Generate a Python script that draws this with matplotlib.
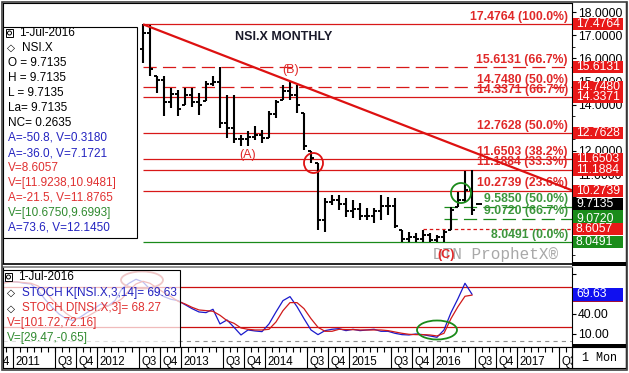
import numpy as np
import matplotlib
matplotlib.use('Agg')
import matplotlib.pyplot as plt
from matplotlib.patches import Rectangle, Ellipse

plt.rcParams['font.family'] = ['Liberation Sans', 'DejaVu Sans']
plt.rcParams['lines.scale_dashes'] = False

W, H, DPI = 629, 373, 100

# ------------------------------------------------------------
# data (month index: 0 = Jan 2011)
# ------------------------------------------------------------
bar_months = list(range(18, 67))
highs = [17.4764, 17.45, 15.24, 15.24, 14.72, 14.64, 14.72, 14.72, 14.51, 15.03,
         15.24, 15.63, 14.42, 14.42, 12.69, 12.86, 13.07, 12.92, 13.73, 14.20,
         14.87, 14.97, 14.85, 13.64, 12.00, 11.48, 9.97, 10.10, 10.10, 9.97,
         9.88, 9.75, 9.54, 9.54, 10.10, 10.01, 9.97, 8.58, 8.50, 8.45,
         8.58, 8.45, 8.37, 8.58, 9.58, 10.23, 11.12, 11.19, 9.7135]
lows = [15.80, 15.23, 14.51, 13.51, 13.86, 13.51, 13.99, 13.91, 13.56, 14.16,
        14.81, 13.00, 12.56, 12.35, 12.22, 12.22, 12.49, 12.34, 12.56, 13.43,
        14.22, 14.22, 13.64, 12.04, 11.50, 8.58, 8.50, 9.67, 9.45, 9.15,
        9.10, 9.02, 9.02, 8.89, 9.02, 9.23, 8.67, 8.07, 8.07, 8.07,
        8.07, 8.07, 8.0491, 8.07, 8.58, 9.58, 9.79, 9.23, 9.7135]
closes = [17.10, 15.55, 15.05, 14.10, 14.45, 13.80, 14.40, 14.10, 14.00, 14.90,
          15.00, 13.20, 13.00, 12.50, 12.50, 12.60, 12.70, 12.55, 13.60, 14.10,
          14.60, 14.40, 14.00, 12.20, 11.70, 9.00, 9.80, 9.90, 9.70, 9.40,
          9.50, 9.20, 9.20, 9.40, 9.60, 9.60, 8.75, 8.20, 8.30, 8.20,
          8.35, 8.15, 8.30, 8.50, 9.45, 9.90, 10.30, 9.45, 9.7135]
first_open = 16.40

fib_red = [17.4764, 15.6131, 14.7480, 14.3371, 12.7628, 11.6503, 11.1884, 10.2739]
fib_red_pct = ['100.0%', '66.7%', '50.0%', '66.7%', '50.0%', '38.2%', '33.3%', '23.6%']
fib_dashed = [15.6131, 14.7480]
fib_green = [9.5850, 9.0720, 8.0491]
fib_green_pct = ['50.0%', '66.7%', '0.0%']
support_dotted = 8.6057
last_price = 9.7135

trend_start = (18, 17.4764)
trend_b = (40, 14.90)

price_ticks = [10, 11, 12, 13, 14, 15, 16, 17, 18]
price_tick_labels = ['', '11.0000', '12.0000', '', '14.0000', '15.0000', '16.0000',
                     '17.0000', '18.0000']

stoch_months = list(range(-2, 66))
stoch_k = [88, 89, 88, 86, 85, 75, 62, 50, 40, 33, 30, 35, 42, 48, 55, 52, 60, 78, 86, 92,
           88, 77, 72, 66, 62,
           60, 54, 48, 43, 42, 47, 25, 31, 20, 8.5, 16, 14.5, 13.5, 25, 43, 60, 66, 51,
           33, 16, 9, 15, 17, 18, 15, 17, 15, 16, 17, 14, 14, 11, 9, 8.5, 10, 9, 7, 5,
           16, 42, 63, 86, 69.63]
stoch_d = [86, 88, 88, 87, 86, 82, 74, 62, 51, 41, 34, 33, 36, 42, 48, 52, 56, 63, 75, 85,
           89, 86, 79, 72, 66,
           59, 55, 50, 46, 45, 44, 38, 30, 26, 19, 17, 16, 16, 17, 28, 45, 57, 57,
           48, 33, 20, 14, 14, 17, 16.5, 16.5, 16, 16, 16, 16, 15, 13, 11, 9.5, 9, 9,
           8.5, 7, 11, 33, 51, 66.5, 68.27]
stoch_levels = [80, 20]

date_label_months = [-3, 0, 6, 9, 12, 18, 21, 24, 30, 33, 36, 42, 45, 48, 54, 57,
                     60, 66, 69, 72, 78]
date_label_text = ['Q4', '2011', 'Q3', 'Q4', '2012', 'Q3', 'Q4', '2013', 'Q3', 'Q4',
                   '2014', 'Q3', 'Q4', '2015', 'Q3', 'Q4', '2016', 'Q3', 'Q4', '2017', 'Q3']

legend_lines = [('O = 9.7135', 'k'), ('H = 9.7135', 'k'), ('L = 9.7135', 'k'),
                ('La= 9.7135', 'k'), ('NC= 0.2635', 'k'),
                ('A=-50.8, V=0.3180', 'b'), ('A=-36.0, V=7.1721', 'b'),
                ('V=8.6057', 'r'), ('V=[11.9238,10.9481]', 'r'),
                ('A=-21.5, V=11.8765', 'r'), ('V=[10.6750,9.6993]', 'g'),
                ('A=73.6, V=12.1450', 'b')]

RED = '#d81818'
RED_TXT = '#e02828'
GREEN = '#1a8a1a'
BLUE = '#1a1acc'
TXT = {'k': 'black', 'b': '#2323c0', 'r': '#e03030', 'g': '#2f8a2f'}

# ------------------------------------------------------------
fig = plt.figure(figsize=(W / DPI, H / DPI), dpi=DPI)


def rect(x0, y0, x1, y1):
    return [x0 / W, 1 - y1 / H, (x1 - x0) / W, (y1 - y0) / H]


def ftext(x, y, s, **kw):
    kw.setdefault('va', 'center')
    kw.setdefault('zorder', 7)
    fig.text(x / W, 1 - y / H, s, **kw)


def fpatch(p):
    p.set_transform(fig.transFigure)
    fig.patches.append(p)


XMIN, XMAX = -2.0, 79.29
ax = fig.add_axes(rect(3, 3, 572, 263))
axs = fig.add_axes(rect(3, 267, 572, 347))
axd = fig.add_axes(rect(3, 347, 572, 368))

# ---------------- price panel ----------------
ax.set_xlim(XMIN, XMAX)
ax.set_ylim(7.156, 18.397)

m = np.array(bar_months, dtype=float)
opens = [first_open] + closes[:-1]
opens = [min(max(o, l), h) for o, l, h in zip(opens, lows, highs)]
ax.vlines(m, lows, highs, color='black', lw=1.5, zorder=3)
ax.hlines(opens, m - 0.45, m, color='black', lw=1.4, zorder=3)
ax.hlines(closes, m, m + 0.45, color='black', lw=1.4, zorder=3)

for lev, pct in zip(fib_red, fib_red_pct):
    ls = (0, (9.5, 4.5)) if lev in fib_dashed else '-'
    ax.hlines(lev, 18, XMAX, color=RED, lw=0.9, linestyle=ls, zorder=2)
    ax.text(78.7, lev + 0.06, f'{lev:.4f} ({pct})', ha='right', va='bottom',
            color=RED_TXT, fontsize=8.8, fontweight='bold', zorder=4)
for i, (lev, pct) in enumerate(zip(fib_green, fib_green_pct)):
    if i < 2:
        ax.hlines(lev, 61, XMAX, color=GREEN, lw=0.9, linestyle=(0, (9.5, 4.5)), zorder=2)
    else:
        ax.hlines(lev, 18, XMAX, color=GREEN, lw=0.9, zorder=2)
    ax.text(78.7, lev + 0.06, f'{lev:.4f} ({pct})', ha='right', va='bottom',
            color='#3c963c', fontsize=8.8, fontweight='bold', zorder=4)
ax.hlines(support_dotted, 58, XMAX, color=RED, lw=0.9, linestyle=(0, (2.5, 2)), zorder=2)

slope = (trend_b[1] - trend_start[1]) / (trend_b[0] - trend_start[0])
ax.plot([trend_start[0], XMAX],
        [trend_start[1], trend_start[1] + slope * (XMAX - trend_start[0])],
        color='#dd1111', lw=1.6, zorder=4, solid_capstyle='butt')

ax.text(38.1, 18.397 - (37 - 3) / 23.13, 'NSI.X MONTHLY', ha='center', va='center',
        fontsize=9, fontweight='bold', color='#1a1a2a')
ax.text(33.0, 17.4764 - (155 - 24.3) / 23.13, '(A)', ha='center', va='center',
        fontsize=9, color=RED_TXT)
ax.text(39.1, 17.4764 - (70 - 24.3) / 23.13, '(B)', ha='center', va='center',
        fontsize=9, color=RED_TXT)
ax.text(68.3, 17.4764 - (255 - 24.3) / 23.13, 'DTN ProphetX®', ha='center', va='center',
        fontsize=11.5, color='#a8a8a8', family=['Liberation Mono', 'DejaVu Sans Mono'],
        zorder=5)
ax.text(61.3, 17.4764 - (255 - 24.3) / 23.13, '(C)', ha='center', va='center',
        fontsize=9, fontweight='bold', color=RED_TXT, zorder=6)

ax.yaxis.tick_right()
ax.set_yticks(price_ticks)
ax.set_yticklabels(price_tick_labels)
ax.set_yticks(np.arange(7.5, 18.4, 0.5), minor=True)
ax.tick_params(axis='y', which='major', length=3, width=0.8, pad=1.5, labelsize=8.8)
ax.tick_params(axis='y', which='minor', length=2, width=0.6)
ax.set_xticks([])
for s in ax.spines.values():
    s.set_linewidth(0.8)
ax.spines['bottom'].set_visible(False)

# ---------------- stochastic panel ----------------
axs.set_xlim(XMIN, XMAX)
axs.set_ylim(-9.54, 110.4)
axs.plot(stoch_months, stoch_k, color=BLUE, lw=0.9, zorder=3)
axs.plot(stoch_months, stoch_d, color='#d01a1a', lw=0.9, zorder=3)
axs.hlines(stoch_levels, XMIN, XMAX, color='#cc1010', lw=0.9, zorder=2)
axs.hlines(0, XMIN, XMAX, color='#909090', lw=0.8, linestyle=(0, (3, 3)), zorder=2)
axs.yaxis.tick_right()
axs.set_yticks([10, 40, 70, 100])
axs.set_yticklabels(['10.00', '40.00', '', ''])
axs.tick_params(axis='y', length=3, width=0.8, pad=1.5, labelsize=8.8)
axs.set_xticks([])
for s in axs.spines.values():
    s.set_linewidth(0.8)
axs.spines['top'].set_color('#808080')
axs.spines['top'].set_linewidth(1.2)

# ---------------- date strip ----------------
axd.set_xlim(XMIN, XMAX)
axd.set_ylim(0, 1)
axd.set_xticks([])
axd.set_yticks([])
axd.vlines(np.arange(-2, 80) - 0.5, 0.75, 1.0, color='black', lw=0.8)
axd.vlines(np.array(date_label_months) - 0.5, 0.0, 1.0, color='black', lw=0.8)
for dm, dt in zip(date_label_months, date_label_text):
    axd.text(dm - 0.5 + 0.3, 0.3, dt, ha='left', va='center', fontsize=8.3,
             clip_on=True)
for s in axd.spines.values():
    s.set_linewidth(0.8)

# ---------------- divider / frames ----------------
fig.add_artist(plt.Line2D([3 / W, 626 / W], [1 - 263.5 / H] * 2, color='black', lw=1.2,
                          transform=fig.transFigure, zorder=8))
fpatch(Rectangle((572 / W, 1 - 266 / H), 54 / W, 4 / H, facecolor='black', zorder=8))
fpatch(Rectangle((572 / W, 1 - 347 / H), 54 / W, 3.5 / H, facecolor='black', zorder=8))
fpatch(Rectangle((1.5 / W, 1 - 369.5 / H), 625 / W, 368 / H, facecolor='none',
                 edgecolor='#404040', lw=1.2, zorder=9))
fig.add_artist(plt.Line2D([626 / W] * 2, [1 - 368 / H, 1 - 2 / H], color='black', lw=1,
                          transform=fig.transFigure, zorder=9))
fpatch(Rectangle((572 / W, 1 - 368 / H), 54 / W, 21 / H, facecolor='none',
                 edgecolor='black', lw=0.8, zorder=8))
ftext(599, 358, '1 Mon', ha='center', fontsize=8.5,
      family=['Liberation Mono', 'DejaVu Sans Mono'])

# ---------------- right axis value boxes ----------------
box_count = [0]


def value_box(axis, val, text, color, h=12):
    z = 5 + 0.02 * box_count[0]
    box_count[0] += 1
    yd = axis.transData.transform((0, val))[1]
    fpatch(Rectangle((573 / W, (yd - h / 2) / H), 50 / W, h / H, facecolor=color,
                     edgecolor='none', zorder=z))
    if text:
        fig.text(576 / W, yd / H, text, color='white', fontsize=8.8, va='center',
                 ha='left', zorder=z + 0.01)


for lev in fib_red:
    value_box(ax, lev, f'{lev:.4f}', '#e81818')
value_box(ax, fib_green[0], '', '#1a8c1a')
value_box(ax, last_price, f'{last_price:.4f}', 'black')
value_box(ax, fib_green[1], f'{fib_green[1]:.4f}', '#1a8c1a')
value_box(ax, support_dotted, f'{support_dotted:.4f}', '#e81818')
value_box(ax, fib_green[2], f'{fib_green[2]:.4f}', '#1a8c1a')
value_box(axs, stoch_d[-1], '', '#a01038', h=13)
value_box(axs, stoch_k[-1], f'{stoch_k[-1]:.2f}', '#1010f0', h=13)

# ---------------- annotations ----------------
fpatch(Ellipse((313.5 / W, 1 - 163 / H), 19 / W, 20 / H, facecolor='none',
               edgecolor='#dd1111', lw=1.3, zorder=4))
fpatch(Ellipse((461 / W, 1 - 193 / H), 20 / W, 20 / H, facecolor='none',
               edgecolor=GREEN, lw=1.3, zorder=4))
fpatch(Ellipse((437 / W, 1 - 330 / H), 40 / W, 19 / H, facecolor='none',
               edgecolor=GREEN, lw=1.3, zorder=4))
fpatch(Ellipse((142 / W, 1 - 280 / H), 42 / W, 17 / H, facecolor='none',
               edgecolor='#c83c3c', lw=1.3, zorder=3))

# ---------------- price legend box ----------------
fpatch(Rectangle((3 / W, 1 - 238 / H), 134 / W, 211 / H, facecolor='white',
                 edgecolor='black', lw=0.8, zorder=5))
fpatch(Rectangle((6 / W, 1 - 37 / H), 7 / W, 8 / H, facecolor='white',
                 edgecolor='black', lw=0.7, zorder=6))
fpatch(Ellipse((9.5 / W, 1 - 33 / H), 4 / W, 4 / H, facecolor='none',
               edgecolor='black', lw=0.7, zorder=6))
ftext(19, 33, '1-Jul-2016', fontsize=8.5)
ftext(7, 48, '◇', fontsize=7.5, fontweight='bold')
ftext(22, 48, 'NSI.X', fontsize=8.5)
for i, (s, c) in enumerate(legend_lines):
    ftext(8, 63 + 15 * i, s, fontsize=8.5, color=TXT[c])

# ---------------- stoch legend box ----------------
fpatch(Rectangle((3 / W, 1 - 347 / H), 177 / W, 77 / H, facecolor=(1, 1, 1, 0.72),
                 edgecolor='black', lw=0.8, zorder=5))
fpatch(Rectangle((5 / W, 1 - 281 / H), 7 / W, 8 / H, facecolor='white',
                 edgecolor='black', lw=0.7, zorder=6))
fpatch(Ellipse((8.5 / W, 1 - 277 / H), 4 / W, 4 / H, facecolor='none',
               edgecolor='black', lw=0.7, zorder=6))
ftext(18, 277, '1-Jul-2016', fontsize=8.5)
ftext(7, 292.7, '◇', fontsize=7.5, fontweight='bold')
ftext(22, 292.7, f'STOCH K[NSI.X,3,14]= {stoch_k[-1]:.2f}', fontsize=8.5, color=TXT['b'])
ftext(7, 308.3, '◇', fontsize=7.5, fontweight='bold')
ftext(22, 308.3, f'STOCH D[NSI.X,3]= {stoch_d[-1]:.2f}', fontsize=8.5, color=TXT['r'])
ftext(7, 323.3, 'V=[101.72,72.16]', fontsize=8.5, color=TXT['r'])
ftext(7, 337.5, 'V=[29.47,-0.65]', fontsize=8.5, color=TXT['g'])

fig.savefig('out.png', dpi=DPI)
plt.close(fig)
